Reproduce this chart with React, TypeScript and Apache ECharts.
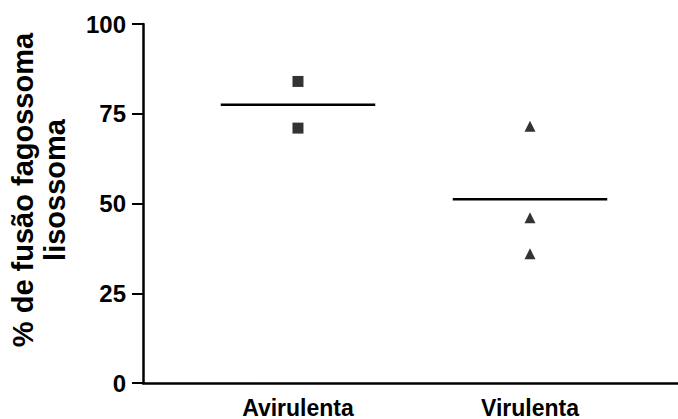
import React, { useEffect, useRef } from "react";
import * as echarts from "echarts";

const categories = ["Avirulenta", "Virulenta"];
const categoryPositions = [1, 2];
const avirulentaValues = [84, 71];
const virulentaValues = [71.5, 46, 36];
const yTicks = [0, 25, 50, 75, 100];
const yTitleLines = ["% de fusão fagossoma", "lisossoma"];

const mean = (a: number[]) => a.reduce((s, v) => s + v, 0) / a.length;

export default function App() {
  const ref = useRef<HTMLDivElement>(null);
  useEffect(() => {
    if (!ref.current) return;
    const chart = echarts.init(ref.current, null, { renderer: "svg" });
    const font = "'Liberation Sans', Arial, sans-serif";
    const half = 0.333;
    const mA = mean(avirulentaValues);
    const mV = mean(virulentaValues);
    chart.setOption({
      animation: false,
      backgroundColor: "#ffffff",
      grid: { left: 143, right: 0, top: 24, bottom: 35, containLabel: false },
      xAxis: {
        type: "value",
        min: 0.332,
        max: 2.638,
        splitLine: { show: false },
        axisTick: { show: false },
        axisLine: { show: true, onZero: false, lineStyle: { color: "#000", width: 2.5 } },
        axisLabel: {
          customValues: categoryPositions,
          formatter: (v: number) => {
            const i = categoryPositions.indexOf(Math.round(v));
            return i >= 0 ? categories[i] : "";
          },
          color: "#000",
          fontFamily: font,
          fontWeight: "bold",
          fontSize: 23,
          margin: 13,
        },
      },
      yAxis: {
        type: "value",
        min: yTicks[0],
        max: yTicks[yTicks.length - 1],
        interval: 25,
        splitLine: { show: false },
        axisLine: { show: true, lineStyle: { color: "#000", width: 2.5 } },
        axisTick: { show: true, inside: false, length: 11, lineStyle: { color: "#000", width: 2 } },
        axisLabel: {
          color: "#000",
          fontFamily: font,
          fontWeight: "bold",
          fontSize: 24,
          margin: 17,
        },
      },
      graphic: [
        {
          type: "text",
          x: 39,
          y: 190,
          rotation: Math.PI / 2,
          style: {
            text: yTitleLines.join("\n"),
            fontFamily: font,
            fontWeight: "bold",
            fontSize: 29,
            lineHeight: 32,
            fill: "#000",
            textAlign: "center",
            textVerticalAlign: "middle",
          },
        },
      ],
      series: [
        {
          type: "scatter",
          symbol: "rect",
          symbolSize: 11,
          itemStyle: { color: "#000" },
          data: avirulentaValues.map((v) => [categoryPositions[0], v]),
        },
        {
          type: "scatter",
          symbol: "triangle",
          symbolSize: 11,
          itemStyle: { color: "#000" },
          data: virulentaValues.map((v) => [categoryPositions[1], v]),
        },
        {
          type: "line",
          symbol: "none",
          lineStyle: { color: "#000", width: 2.5 },
          data: [
            [categoryPositions[0] - half, mA],
            [categoryPositions[0] + half, mA],
          ],
        },
        {
          type: "line",
          symbol: "none",
          lineStyle: { color: "#000", width: 2.5 },
          data: [
            [categoryPositions[1] - half, mV],
            [categoryPositions[1] + half, mV],
          ],
        },
      ],
    });
    return () => chart.dispose();
  }, []);
  return <div ref={ref} style={{ width: 678, height: 419, position: "absolute", left: 0, top: 0 }} />;
}
